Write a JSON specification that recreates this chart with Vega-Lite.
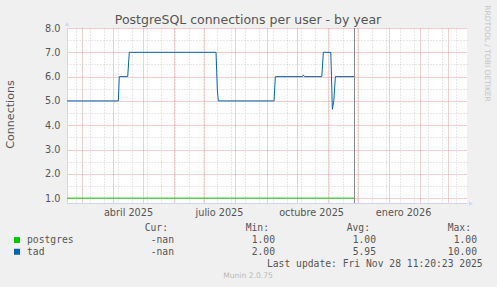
{
 "$schema": "https://vega.github.io/schema/vega-lite/v6.json",
 "width": 400,
 "height": 175,
 "autosize": {"type": "none"},
 "padding": {"left": 67, "top": 28, "right": 30, "bottom": 84},
 "background": "#F0F0F0",
 "config": {"view": {"fill": "#FFFFFF", "stroke": null}, "font": "DejaVu Sans"},
 "datasets": {
  "series": [
   {"user": "postgres", "date": "2025-02-14T08:40:00Z", "value": 1},
   {"user": "postgres", "date": "2025-11-27T12:00:00Z", "value": 1},
   {"user": "tad", "date": "2025-02-14T08:40:00Z", "value": 5},
   {"user": "tad", "date": "2025-04-06T10:30:00Z", "value": 5},
   {"user": "tad", "date": "2025-04-07T10:00:00Z", "value": 6},
   {"user": "tad", "date": "2025-04-15T19:00:00Z", "value": 6},
   {"user": "tad", "date": "2025-04-17T09:00:00Z", "value": 7},
   {"user": "tad", "date": "2025-07-12T17:00:00Z", "value": 7},
   {"user": "tad", "date": "2025-07-14T00:00:00Z", "value": 5.45},
   {"user": "tad", "date": "2025-07-15T00:00:00Z", "value": 5},
   {"user": "tad", "date": "2025-09-08T11:00:00Z", "value": 5},
   {"user": "tad", "date": "2025-09-09T18:00:00Z", "value": 6},
   {"user": "tad", "date": "2025-10-06T15:00:00Z", "value": 6},
   {"user": "tad", "date": "2025-10-07T15:00:00Z", "value": 6.07},
   {"user": "tad", "date": "2025-10-08T15:00:00Z", "value": 6},
   {"user": "tad", "date": "2025-10-25T23:00:00Z", "value": 6},
   {"user": "tad", "date": "2025-10-27T13:00:00Z", "value": 7},
   {"user": "tad", "date": "2025-11-03T22:00:00Z", "value": 7},
   {"user": "tad", "date": "2025-11-05T12:00:00Z", "value": 4.66},
   {"user": "tad", "date": "2025-11-06T22:00:00Z", "value": 5},
   {"user": "tad", "date": "2025-11-08T12:00:00Z", "value": 6},
   {"user": "tad", "date": "2025-11-27T12:00:00Z", "value": 6}
  ],
  "now": [{"date": "2025-11-27T12:00:00Z"}],
  "arrows": [
   {"axis": "y", "shape": "up"},
   {"axis": "x", "shape": "right"}
  ],
  "legend": [
   {"kind": "title", "text": "PostgreSQL connections per user - by year"},
   {"kind": "watermark", "text": "RRDTOOL / TOBI OETIKER"},
   {"kind": "header", "row": "header", "col": "Cur", "text": "Cur:"},
   {"kind": "header", "row": "header", "col": "Min", "text": "Min:"},
   {"kind": "header", "row": "header", "col": "Avg", "text": "Avg:"},
   {"kind": "header", "row": "header", "col": "Max", "text": "Max:"},
   {"kind": "name", "row": "postgres", "user": "postgres", "text": "postgres"},
   {"kind": "name", "row": "tad", "user": "tad", "text": "tad"},
   {"kind": "value", "row": "postgres", "col": "Cur", "text": "-nan"},
   {"kind": "value", "row": "postgres", "col": "Min", "text": "1.00"},
   {"kind": "value", "row": "postgres", "col": "Avg", "text": "1.00"},
   {"kind": "value", "row": "postgres", "col": "Max", "text": "1.00"},
   {"kind": "value", "row": "tad", "col": "Cur", "text": "-nan"},
   {"kind": "value", "row": "tad", "col": "Min", "text": "2.00"},
   {"kind": "value", "row": "tad", "col": "Avg", "text": "5.95"},
   {"kind": "value", "row": "tad", "col": "Max", "text": "10.00"},
   {"kind": "update", "row": "update", "text": "Last update: Fri Nov 28 11:20:23 2025"},
   {"kind": "footer", "text": "Munin 2.0.75"}
  ]
 },
 "layer": [
  {
   "data": {"name": "series"},
   "transform": [{"filter": "datum.user == 'postgres'"}],
   "mark": {"type": "line", "strokeWidth": 1},
   "encoding": {
    "x": {"field": "date", "type": "temporal",
     "scale": {"type": "utc", "domain": [{"year": 2025, "month": 2, "date": 14, "hours": 8, "minutes": 40, "utc": true}, {"year": 2026, "month": 3, "date": 19, "hours": 12, "utc": true}]},
     "axis": {"orient": "top", "grid": true, "gridColor": "#d0d0d0", "gridDash": [1, 2], "gridWidth": 1, "labels": false, "ticks": false, "domain": false, "title": null,
      "values": [
       {"year": 2025, "month": 2, "date": 23, "hours": 12, "utc": true},
       {"year": 2025, "month": 3, "date": 9, "hours": 12, "utc": true},
       {"year": 2025, "month": 3, "date": 23, "hours": 12, "utc": true},
       {"year": 2025, "month": 4, "date": 6, "hours": 12, "utc": true},
       {"year": 2025, "month": 4, "date": 20, "hours": 12, "utc": true},
       {"year": 2025, "month": 5, "date": 4, "hours": 12, "utc": true},
       {"year": 2025, "month": 5, "date": 18, "hours": 12, "utc": true},
       {"year": 2025, "month": 6, "date": 1, "hours": 12, "utc": true},
       {"year": 2025, "month": 6, "date": 15, "hours": 12, "utc": true},
       {"year": 2025, "month": 6, "date": 29, "hours": 12, "utc": true},
       {"year": 2025, "month": 7, "date": 13, "hours": 12, "utc": true},
       {"year": 2025, "month": 7, "date": 27, "hours": 12, "utc": true},
       {"year": 2025, "month": 8, "date": 10, "hours": 12, "utc": true},
       {"year": 2025, "month": 8, "date": 24, "hours": 12, "utc": true},
       {"year": 2025, "month": 9, "date": 7, "hours": 12, "utc": true},
       {"year": 2025, "month": 9, "date": 21, "hours": 12, "utc": true},
       {"year": 2025, "month": 10, "date": 5, "hours": 12, "utc": true},
       {"year": 2025, "month": 10, "date": 19, "hours": 12, "utc": true},
       {"year": 2025, "month": 11, "date": 2, "hours": 12, "utc": true},
       {"year": 2025, "month": 11, "date": 16, "hours": 12, "utc": true},
       {"year": 2025, "month": 11, "date": 30, "hours": 12, "utc": true},
       {"year": 2025, "month": 12, "date": 14, "hours": 12, "utc": true},
       {"year": 2025, "month": 12, "date": 28, "hours": 12, "utc": true},
       {"year": 2026, "month": 1, "date": 11, "hours": 12, "utc": true},
       {"year": 2026, "month": 1, "date": 25, "hours": 12, "utc": true},
       {"year": 2026, "month": 2, "date": 8, "hours": 12, "utc": true},
       {"year": 2026, "month": 2, "date": 22, "hours": 12, "utc": true},
       {"year": 2026, "month": 3, "date": 8, "hours": 12, "utc": true}
      ]}},
    "y": {"field": "value", "type": "quantitative", "scale": {"domain": [0.8, 8], "nice": false, "zero": false},
     "axis": {"orient": "right", "values": [1.5, 2.5, 3.5, 4.5, 5.5, 6.5, 7.5], "grid": true, "gridColor": "#d0d0d0", "gridDash": [1, 2], "gridWidth": 1, "labels": false, "ticks": false, "domain": false, "title": null}},
    "color": {"field": "user", "type": "nominal", "scale": {"domain": ["postgres", "tad"], "range": ["#00CC00", "#0066B3"]}, "legend": null}
   }
  },
  {
   "data": {"name": "series"},
   "transform": [{"filter": "datum.user == 'tad'"}],
   "mark": {"type": "line", "strokeWidth": 1},
   "encoding": {
    "x": {"field": "date", "type": "temporal",
     "scale": {"type": "utc", "domain": [{"year": 2025, "month": 2, "date": 14, "hours": 8, "minutes": 40, "utc": true}, {"year": 2026, "month": 3, "date": 19, "hours": 12, "utc": true}]},
     "axis": {"orient": "bottom", "grid": true, "gridColor": "#e89c9c", "gridDash": [1, 1], "gridWidth": 1, "labels": false, "ticks": false, "domain": false, "title": null,
      "values": [
       {"year": 2025, "month": 3, "date": 1, "utc": true},
       {"year": 2025, "month": 4, "date": 1, "utc": true},
       {"year": 2025, "month": 5, "date": 1, "utc": true},
       {"year": 2025, "month": 6, "date": 1, "utc": true},
       {"year": 2025, "month": 7, "date": 1, "utc": true},
       {"year": 2025, "month": 8, "date": 1, "utc": true},
       {"year": 2025, "month": 9, "date": 1, "utc": true},
       {"year": 2025, "month": 10, "date": 1, "utc": true},
       {"year": 2025, "month": 11, "date": 1, "utc": true},
       {"year": 2025, "month": 12, "date": 1, "utc": true},
       {"year": 2026, "month": 1, "date": 1, "utc": true},
       {"year": 2026, "month": 2, "date": 1, "utc": true},
       {"year": 2026, "month": 3, "date": 1, "utc": true}
      ]}},
    "y": {"field": "value", "type": "quantitative", "scale": {"domain": [0.8, 8], "nice": false, "zero": false},
     "axis": {"orient": "left", "values": [1, 2, 3, 4, 5, 6, 7, 8], "format": ".1f", "grid": true, "gridColor": "#e89c9c", "gridDash": [1, 1], "gridWidth": 1,
      "ticks": false, "domain": true, "domainColor": "#CFD6F8", "domainWidth": 1,
      "labelFont": "DejaVu Sans", "labelFontSize": 9.7, "labelColor": "#555555", "labelPadding": 7,
      "title": "Connections", "titleFont": "DejaVu Sans", "titleFontSize": 11.1, "titleFontWeight": "normal", "titleColor": "#555555",
      "titleX": -56.5, "titleY": 86, "titleAngle": -90, "titleAlign": "center", "titleBaseline": "middle"}},
    "color": {"field": "user", "type": "nominal", "scale": {"domain": ["postgres", "tad"], "range": ["#00CC00", "#0066B3"]}, "legend": null}
   }
  },
  {
   "data": {"name": "now"},
   "mark": {"type": "rule", "color": "#888888", "strokeWidth": 1},
   "encoding": {
    "x": {"field": "date", "type": "temporal",
     "scale": {"type": "utc", "domain": [{"year": 2025, "month": 2, "date": 14, "hours": 8, "minutes": 40, "utc": true}, {"year": 2026, "month": 3, "date": 19, "hours": 12, "utc": true}]},
     "axis": {"orient": "bottom", "grid": false, "ticks": false, "domain": true, "domainColor": "#CFD6F8", "domainWidth": 1, "title": null,
      "labelFont": "DejaVu Sans", "labelFontSize": 9.7, "labelColor": "#555555", "labelPadding": 4, "labelOverlap": false, "labelFlush": false,
      "labelExpr": "['enero','febrero','marzo','abril','mayo','junio','julio','agosto','septiembre','octubre','noviembre','diciembre'][utcmonth(datum.value)] + ' ' + utcyear(datum.value)",
      "values": [
       {"year": 2025, "month": 4, "date": 16, "hours": 2, "utc": true},
       {"year": 2025, "month": 7, "date": 15, "hours": 16, "utc": true},
       {"year": 2025, "month": 10, "date": 15, "hours": 7, "utc": true},
       {"year": 2026, "month": 1, "date": 14, "hours": 21, "utc": true}
      ]}}
   }
  },
  {
   "data": {"name": "arrows"},
   "mark": {"type": "point", "filled": true, "size": 22, "opacity": 1, "strokeWidth": 0, "color": "#CFD6F8"},
   "encoding": {
    "x": {"field": "axis", "type": "nominal", "scale": {"type": "point", "domain": ["y", "x"], "range": [0, 404], "padding": 0}, "axis": null},
    "y": {"field": "axis", "type": "nominal", "scale": {"type": "point", "domain": ["y", "x"], "range": [-4, 175.5], "padding": 0}, "axis": null},
    "shape": {"field": "shape", "type": "nominal", "scale": {"domain": ["up", "right"], "range": ["triangle-up", "triangle-right"]}, "legend": null}
   }
  },
  {
   "data": {"name": "legend"},
   "transform": [{"filter": "datum.kind == 'title'"}],
   "mark": {"type": "text", "font": "DejaVu Sans", "fontSize": 12.5, "color": "#555555", "align": "center", "baseline": "alphabetic"},
   "encoding": {
    "x": {"field": "kind", "type": "nominal", "scale": {"type": "point", "domain": ["title"], "range": [181, 181], "padding": 0}, "axis": null},
    "y": {"field": "kind", "type": "nominal", "scale": {"type": "point", "domain": ["title"], "range": [-4, -4], "padding": 0}, "axis": null},
    "text": {"field": "text"}
   }
  },
  {
   "data": {"name": "legend"},
   "transform": [{"filter": "datum.kind == 'watermark'"}],
   "mark": {"type": "text", "font": "DejaVu Sans", "fontSize": 7.5, "color": "#c4c4c4", "align": "center", "baseline": "middle", "angle": 90},
   "encoding": {
    "x": {"field": "kind", "type": "nominal", "scale": {"type": "point", "domain": ["watermark"], "range": [419.7, 419.7], "padding": 0}, "axis": null},
    "y": {"field": "kind", "type": "nominal", "scale": {"type": "point", "domain": ["watermark"], "range": [25.5, 25.5], "padding": 0}, "axis": null},
    "text": {"field": "text"}
   }
  },
  {
   "data": {"name": "legend"},
   "transform": [{"filter": "datum.kind == 'header'"}],
   "mark": {"type": "text", "font": "DejaVu Sans Mono", "fontSize": 9.7, "color": "#555555", "align": "right", "baseline": "middle", "dx": -6},
   "encoding": {
    "x": {"field": "col", "type": "nominal", "scale": {"type": "point", "domain": ["Cur", "Min", "Avg", "Max"], "range": [107, 410], "padding": 0}, "axis": null},
    "y": {"field": "row", "type": "nominal", "scale": {"type": "point", "domain": ["header", "postgres", "tad", "update"], "range": [200.3, 235.5], "padding": 0}, "axis": null},
    "text": {"field": "text"}
   }
  },
  {
   "data": {"name": "legend"},
   "transform": [{"filter": "datum.kind == 'value'"}],
   "mark": {"type": "text", "font": "DejaVu Sans Mono", "fontSize": 9.7, "color": "#555555", "align": "right", "baseline": "middle"},
   "encoding": {
    "x": {"field": "col", "type": "nominal", "scale": {"type": "point", "domain": ["Cur", "Min", "Avg", "Max"], "range": [107, 410], "padding": 0}, "axis": null},
    "y": {"field": "row", "type": "nominal", "scale": {"type": "point", "domain": ["header", "postgres", "tad", "update"], "range": [200.3, 235.5], "padding": 0}, "axis": null},
    "text": {"field": "text"}
   }
  },
  {
   "data": {"name": "legend"},
   "transform": [{"filter": "datum.kind == 'name'"}],
   "mark": {"type": "text", "font": "DejaVu Sans Mono", "fontSize": 9.7, "color": "#555555", "align": "left", "baseline": "middle"},
   "encoding": {
    "x": {"field": "kind", "type": "nominal", "scale": {"type": "point", "domain": ["name"], "range": [-40, -40], "padding": 0}, "axis": null},
    "y": {"field": "row", "type": "nominal", "scale": {"type": "point", "domain": ["header", "postgres", "tad", "update"], "range": [200.3, 235.5], "padding": 0}, "axis": null},
    "text": {"field": "text"}
   }
  },
  {
   "data": {"name": "legend"},
   "transform": [{"filter": "datum.kind == 'name'"}],
   "mark": {"type": "point", "shape": "square", "filled": true, "size": 36, "opacity": 1, "strokeWidth": 0},
   "encoding": {
    "x": {"field": "kind", "type": "nominal", "scale": {"type": "point", "domain": ["name"], "range": [-50, -50], "padding": 0}, "axis": null},
    "y": {"field": "row", "type": "nominal", "scale": {"type": "point", "domain": ["header", "postgres", "tad", "update"], "range": [200.3, 235.5], "padding": 0}, "axis": null},
    "color": {"field": "user", "type": "nominal", "scale": {"domain": ["postgres", "tad"], "range": ["#00CC00", "#0066B3"]}, "legend": null}
   }
  },
  {
   "data": {"name": "legend"},
   "transform": [{"filter": "datum.kind == 'update'"}],
   "mark": {"type": "text", "font": "DejaVu Sans Mono", "fontSize": 9.7, "color": "#555555", "align": "right", "baseline": "middle"},
   "encoding": {
    "x": {"field": "kind", "type": "nominal", "scale": {"type": "point", "domain": ["update"], "range": [415.7, 415.7], "padding": 0}, "axis": null},
    "y": {"field": "row", "type": "nominal", "scale": {"type": "point", "domain": ["header", "postgres", "tad", "update"], "range": [200.3, 235.5], "padding": 0}, "axis": null},
    "text": {"field": "text"}
   }
  },
  {
   "data": {"name": "legend"},
   "transform": [{"filter": "datum.kind == 'footer'"}],
   "mark": {"type": "text", "font": "DejaVu Sans", "fontSize": 7.6, "color": "#b8b8b8", "align": "center", "baseline": "middle"},
   "encoding": {
    "x": {"field": "kind", "type": "nominal", "scale": {"type": "point", "domain": ["footer"], "range": [181, 181], "padding": 0}, "axis": null},
    "y": {"field": "kind", "type": "nominal", "scale": {"type": "point", "domain": ["footer"], "range": [248.3, 248.3], "padding": 0}, "axis": null},
    "text": {"field": "text"}
   }
  }
 ],
 "resolve": {"scale": {"x": "independent", "y": "independent", "shape": "independent"}}
}
